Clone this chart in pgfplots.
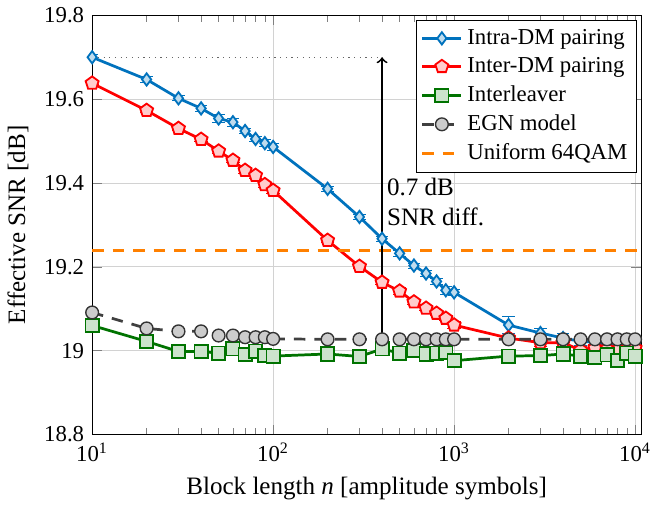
\documentclass[border=0pt]{standalone}
\usepackage{fontspec}
\setmainfont{Liberation Serif}
\usepackage{pgfplots}
\pgfplotsset{compat=1.18}
\definecolor{mblue}{RGB}{0,114,189}
\definecolor{mgreen}{RGB}{0,115,0}
\definecolor{morange}{RGB}{255,128,0}
\begin{document}
\begin{tikzpicture}[font=\fontsize{11pt}{13.2pt}\selectfont]
\begin{axis}[
  scale only axis, width=241pt, height=184pt,
  xmode=log, xmin=10, xmax=10800, ymin=18.8, ymax=19.8,
  xtick={10,100,1000,10000},
  xticklabels={10\textsuperscript{1},10\textsuperscript{2},10\textsuperscript{3},10\textsuperscript{4}},
  ytick={18.8,19,19.2,19.4,19.6,19.8},
  yticklabels={18.8,19,19.2,19.4,19.6,19.8},
  /pgf/number format/assume math mode=true,
  ticklabel style={font=\fontsize{10pt}{12pt}\selectfont},
  xticklabel style={inner xsep=0pt},
  xlabel={Block length \textit{n} [amplitude symbols]},
  ylabel={Effective SNR [dB]},
  grid=major, grid style={gray!35, line width=0.4pt},
  legend style={at={(0.9925,0.99)}, anchor=north east, draw=black, fill=white,
    font=\fontsize{10pt}{12pt}\selectfont, row sep=0.3pt, inner sep=2pt},
  legend cell align=left,
  error bars/error bar style={line width=0.5pt},
]
% Intra-DM pairing
\addplot[mblue, line width=1.2pt, mark=diamond*, mark size=2.7pt,
  mark options={fill=mblue!25, solid, line width=0.8pt},
  error bars/.cd, y dir=both, y explicit]
  coordinates {(10,19.700)+-(0,0.006) (20,19.647)+-(0,0.006) (30,19.602)+-(0,0.006)
  (40,19.578)+-(0,0.008) (50,19.554)+-(0,0.010) (60,19.545)+-(0,0.010)
  (70,19.524)+-(0,0.006) (80,19.505)+-(0,0.007) (90,19.495)+-(0,0.008)
  (100,19.486)+-(0,0.008) (200,19.386)+-(0,0.006) (300,19.319)+-(0,0.006)
  (400,19.267)+-(0,0.006) (500,19.232)+-(0,0.008) (600,19.203)+-(0,0.006)
  (700,19.184)+-(0,0.008) (800,19.165)+-(0,0.008) (900,19.144)+-(0,0.009)
  (1000,19.139)+-(0,0.008) (2000,19.061)+-(0,0.020) (3000,19.042)+-(0,0.010)
  (4000,19.030)+-(0,0.010) (5000,19.022)+-(0,0.010) (6000,19.020)+-(0,0.010)
  (7000,19.015)+-(0,0.010) (8000,19.018)+-(0,0.010) (9000,19.015)+-(0,0.010)
  (10000,19.017)+-(0,0.010)};
\addlegendentry{Intra-DM pairing}
% Inter-DM pairing
\addplot[red, line width=1.2pt, mark=pentagon*, mark size=3pt,
  mark options={fill=red!20, solid, line width=0.8pt},
  error bars/.cd, y dir=both, y explicit]
  coordinates {(10,19.638)+-(0,0.004) (20,19.573)+-(0,0.004) (30,19.530)+-(0,0.004)
  (40,19.504)+-(0,0.005) (50,19.476)+-(0,0.006) (60,19.454)+-(0,0.006)
  (70,19.430)+-(0,0.008) (80,19.418)+-(0,0.008) (90,19.396)+-(0,0.006)
  (100,19.382)+-(0,0.006) (200,19.263)+-(0,0.005) (300,19.201)+-(0,0.005)
  (400,19.163)+-(0,0.006) (500,19.142)+-(0,0.008) (600,19.116)+-(0,0.006)
  (700,19.101)+-(0,0.006) (800,19.089)+-(0,0.006) (900,19.077)+-(0,0.006)
  (1000,19.061)+-(0,0.008) (2000,19.030)+-(0,0.006) (3000,19.019)+-(0,0.008)
  (4000,19.019)+-(0,0.008) (5000,19.001)+-(0,0.008) (6000,19.006)+-(0,0.008)
  (7000,19.004)+-(0,0.008) (8000,19.001)+-(0,0.008) (9000,19.004)+-(0,0.008)
  (10000,19.006)+-(0,0.008)};
\addlegendentry{Inter-DM pairing}
% Interleaver
\addplot[mgreen, line width=1.2pt, mark=square*, mark size=2.9pt,
  mark options={fill=mgreen!20, solid, line width=0.8pt},
  error bars/.cd, y dir=both, y explicit]
  coordinates {(10,19.060)+-(0,0.004) (20,19.022)+-(0,0.004) (30,18.998)+-(0,0.008)
  (40,18.998)+-(0,0.006) (50,18.994)+-(0,0.004) (60,19.004)+-(0,0.010)
  (70,18.991)+-(0,0.004) (80,18.999)+-(0,0.006) (90,18.988)+-(0,0.004)
  (100,18.987)+-(0,0.004) (200,18.992)+-(0,0.006) (300,18.986)+-(0,0.006)
  (400,19.004)+-(0,0.006) (500,18.994)+-(0,0.004) (600,19.000)+-(0,0.004)
  (700,18.992)+-(0,0.004) (800,18.994)+-(0,0.010) (900,18.996)+-(0,0.004)
  (1000,18.976)+-(0,0.004) (2000,18.987)+-(0,0.008) (3000,18.988)+-(0,0.006)
  (4000,18.992)+-(0,0.004) (5000,18.987)+-(0,0.004) (6000,18.984)+-(0,0.004)
  (7000,18.990)+-(0,0.004) (8000,18.976)+-(0,0.004) (9000,18.994)+-(0,0.004)
  (10000,18.987)+-(0,0.006)};
\addlegendentry{Interleaver}
% EGN model
\addplot[black!75, line width=1.2pt, dash pattern=on 5pt off 4pt, mark=*, mark size=2.8pt,
  mark options={fill=black!20, draw=black!80, solid, line width=0.6pt}]
  coordinates {(10,19.091) (20,19.053) (30,19.046) (40,19.046) (50,19.036)
  (60,19.036) (70,19.032) (80,19.032) (90,19.032) (100,19.028) (200,19.027)
  (300,19.027) (400,19.027) (500,19.027) (600,19.027) (700,19.027) (800,19.027)
  (900,19.027) (1000,19.027) (2000,19.027) (3000,19.027) (4000,19.027)
  (5000,19.027) (6000,19.027) (7000,19.027) (8000,19.027) (9000,19.027)
  (10000,19.027)};
\addlegendentry{EGN model}
% Uniform 64QAM
\addplot[morange, line width=1.3pt, dash pattern=on 5pt off 4pt]
  coordinates {(10,19.24) (10800,19.24)};
\addlegendentry{Uniform 64QAM}
% annotation
\draw[black!60, dotted, line width=0.5pt] (axis cs:10,19.70) -- (axis cs:400,19.70);
\draw[black, line width=0.8pt, <->] (axis cs:400,19.0) -- (axis cs:400,19.70);
\node[anchor=west, align=left, inner sep=2pt] at (axis cs:400,19.355) {0.7 dB\\SNR diff.};
\end{axis}
\end{tikzpicture}
\end{document}
